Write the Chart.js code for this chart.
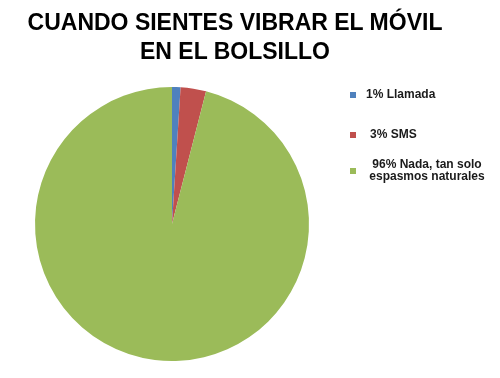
<!DOCTYPE html>
<html>
<head>
<meta charset="utf-8">
<script src="https://cdn.jsdelivr.net/npm/chart.js@4/dist/chart.umd.min.js"></script>
<style>
  body { margin: 0; background: #fff; }
  #wrap { position: relative; width: 500px; height: 378px; font-family: "Liberation Sans", Arial, sans-serif; }
  #grafico { position: absolute; left: 0; top: 0; }
  #titulo {
    position: absolute; left: 0; width: 470px; top: 8px;
    text-align: center; font-weight: bold; font-size: 23px; line-height: 29px; color: #000;
  }
  .leyenda { position: absolute; font-size: 12px; font-weight: bold; color: #1a1a1a; line-height: 12px; white-space: nowrap; }
  .marca { position: absolute; width: 6px; height: 6px; }
</style>
</head>
<body>
<div id="wrap">
  <canvas id="grafico" width="500" height="378"></canvas>
  <div id="titulo">CUANDO SIENTES VIBRAR EL MÓVIL<br>EN EL BOLSILLO</div>
</div>
<script>
// datos del gráfico
const categorias = ['Llamada', 'SMS', 'Nada, tan solo espasmos naturales'];
const porcentajes = [1, 3, 96];
const colores = ['#4f81bd', '#c0504d', '#9bbb59'];

// posiciones de la leyenda (texto y marcador)
const leyendaPos = [
    { marcaY: 92, textoX: 366, textoY: 88, ancho: 80, alinear: 'left', html: '1% Llamada' },
    { marcaY: 132, textoX: 370, textoY: 128, ancho: 60, alinear: 'left', html: '3% SMS' },
    { marcaY: 168, textoX: 357, textoY: 158, ancho: 140, alinear: 'center', html: '96% Nada, tan solo<br>espasmos naturales' }
];

function renderLeyenda() {
    const wrap = document.getElementById('wrap');
    leyendaPos.forEach((p, i) => {
        const marca = document.createElement('div');
        marca.className = 'marca';
        marca.style.left = '350px';
        marca.style.top = p.marcaY + 'px';
        marca.style.background = colores[i];
        wrap.appendChild(marca);

        const texto = document.createElement('div');
        texto.className = 'leyenda';
        texto.style.left = p.textoX + 'px';
        texto.style.top = p.textoY + 'px';
        texto.style.width = p.ancho + 'px';
        texto.style.textAlign = p.alinear;
        texto.innerHTML = p.html;
        wrap.appendChild(texto);
    });
}

new Chart(document.getElementById('grafico'), {
    type: 'pie',
    data: {
        labels: categorias.map((c, i) => porcentajes[i] + '% ' + c),
        datasets: [{
            data: porcentajes,
            backgroundColor: colores,
            borderWidth: 0
        }]
    },
    options: {
        responsive: false,
        animation: false,
        rotation: 0,
        layout: { padding: { left: 35, right: 191, top: 87, bottom: 17 } },
        plugins: {
            legend: { display: false },
            tooltip: { enabled: false }
        }
    }
});

renderLeyenda();
</script>
</body>
</html>
